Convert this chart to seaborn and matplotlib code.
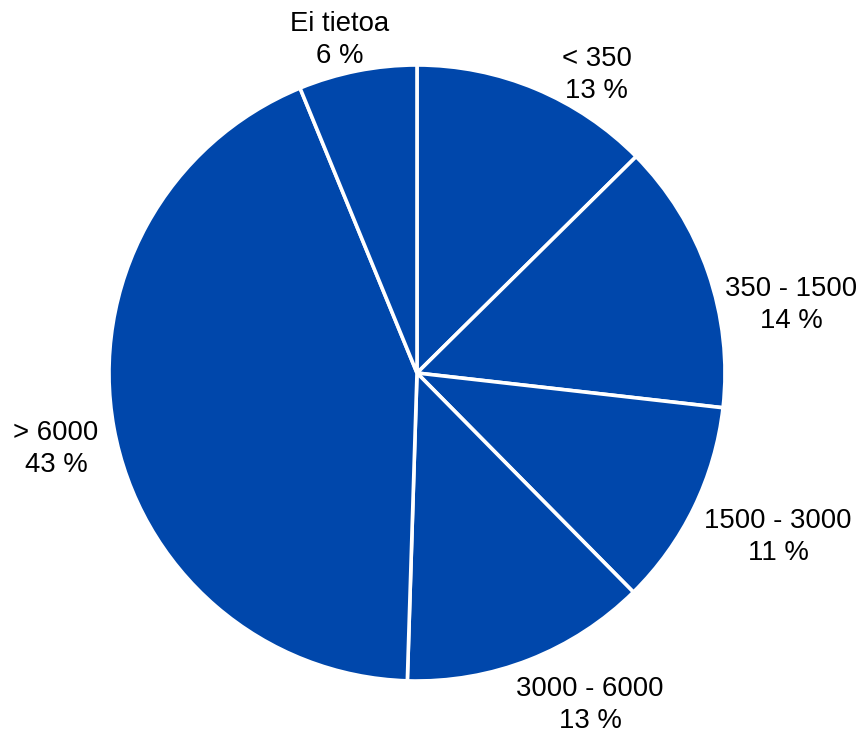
import matplotlib
matplotlib.use("Agg")
import matplotlib.pyplot as plt
import seaborn as sns

categories = ["< 350", "350 - 1500", "1500 - 3000", "3000 - 6000", "> 6000", "Ei tietoa"]
shares = [12.6, 14.2, 10.8, 12.9, 43.3, 6.2]

# label centres in data units (pie radius = 1), styling only
label_pos = [(0.584, 0.968), (1.214, 0.221), (1.172, -0.532),
             (0.562, -1.078), (-1.172, -0.247), (-0.250, 1.081)]

sns.set_theme(style="white")
plt.rcParams["font.family"] = ["Liberation Sans", "DejaVu Sans"]

fig = plt.figure(figsize=(8.63, 7.38), dpi=100)
ax = fig.add_axes([0, 0, 1, 1])
colors = [sns.color_palette(["#0047AB"])[0]] * len(shares)
wedges, _ = ax.pie(shares, startangle=90, counterclock=False, colors=colors,
                   radius=1.0,
                   wedgeprops=dict(edgecolor="white", linewidth=2.6))
total = sum(shares)
for cat, v, (x, y) in zip(categories, shares, label_pos):
    ax.text(x, y, f"{cat}\n{round(v / total * 100)} %", ha="center", va="center",
            multialignment="center", fontsize=19.8, color="black", linespacing=1.32)

ax.set_xlim(-417 / 308, (863 - 417) / 308)
ax.set_ylim(-365 / 308, (738 - 365) / 308)
ax.set_aspect("auto")
ax.axis("off")
fig.savefig("out.png", dpi=100, facecolor="white")
